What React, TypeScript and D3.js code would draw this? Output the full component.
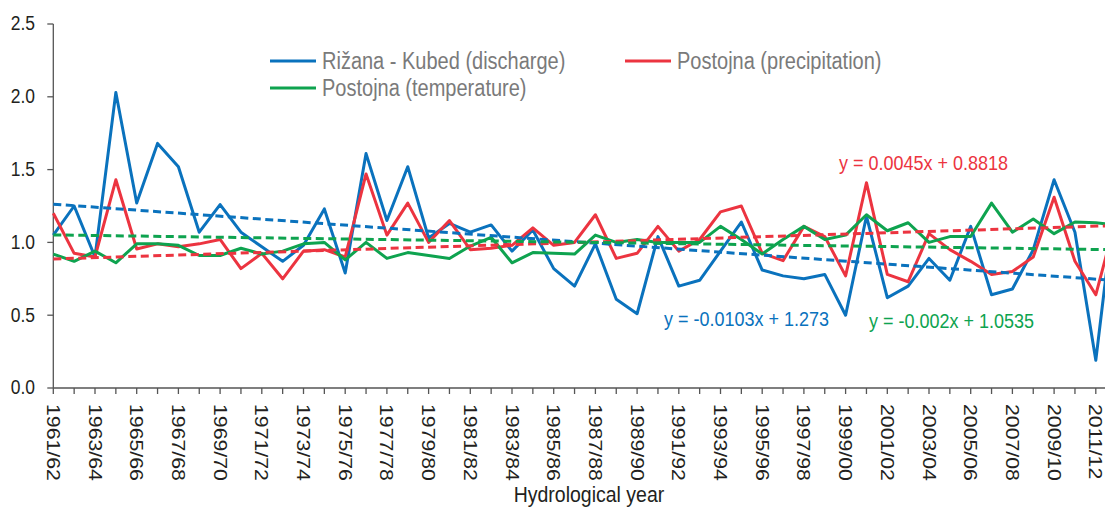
import React from 'react'
import * as d3 from 'd3'

// hydrological years 1961/62 .. 2012/13
const years = d3.range(1961, 2013).map(y => `${y}/${String((y + 1) % 100).padStart(2, '0')}`)

const discharge = [1.05, 1.25, 0.90, 2.03, 1.27, 1.68, 1.52, 1.07, 1.26, 1.07, 0.97, 0.87, 0.98, 1.23, 0.79, 1.61, 1.15, 1.52, 1.03, 1.13, 1.07, 1.12, 0.94, 1.085, 0.82, 0.70, 0.99, 0.61, 0.51, 1.04, 0.70, 0.74, 0.94, 1.14, 0.81, 0.77, 0.75, 0.78, 0.50, 1.18, 0.62, 0.70, 0.89, 0.74, 1.11, 0.64, 0.68, 0.95, 1.43, 1.07, 0.19, 1.38]
const precipitation = [1.20, 0.925, 0.90, 1.43, 0.955, 0.99, 0.97, 0.99, 1.02, 0.82, 0.925, 0.75, 0.94, 0.95, 0.90, 1.47, 1.05, 1.27, 1.00, 1.15, 0.95, 0.96, 0.98, 1.10, 0.98, 1.00, 1.19, 0.89, 0.925, 1.11, 0.94, 1.02, 1.21, 1.25, 0.925, 0.875, 1.11, 1.04, 0.77, 1.41, 0.78, 0.73, 1.06, 0.95, 0.87, 0.78, 0.80, 0.90, 1.31, 0.87, 0.64, 1.18]
const temperature = [0.92, 0.87, 0.94, 0.86, 0.99, 0.99, 0.98, 0.91, 0.91, 0.96, 0.92, 0.94, 0.99, 1.00, 0.88, 1.00, 0.89, 0.93, 0.91, 0.89, 0.975, 1.035, 0.86, 0.93, 0.925, 0.92, 1.05, 1.00, 1.02, 1.00, 1.00, 1.00, 1.11, 1.02, 0.92, 1.02, 1.11, 1.02, 1.05, 1.19, 1.08, 1.135, 1.00, 1.04, 1.04, 1.27, 1.07, 1.16, 1.06, 1.14, 1.135, 1.12]

const yTicks = [0, 0.5, 1.0, 1.5, 2.0, 2.5]

const series = [
  { name: 'Rižana - Kubed (discharge)', values: discharge, color: '#0a72bd', slope: -0.0103, icpt: 1.273, eq: 'y = -0.0103x + 1.273', eqX: 664, eqY: 326 },
  { name: 'Postojna (precipitation)', values: precipitation, color: '#ec3440', slope: 0.0045, icpt: 0.8818, eq: 'y = 0.0045x + 0.8818', eqX: 839, eqY: 170 },
  { name: 'Postojna (temperature)', values: temperature, color: '#0ea34f', slope: -0.002, icpt: 1.0535, eq: 'y = -0.002x + 1.0535', eqX: 869, eqY: 328 },
]

const FONT = 'Liberation Sans, Arial, sans-serif'
const SY = 1.15 // the original text is a bit taller than wide

const Txt = ({ x, y, size, fill, anchor = 'start', rotate = 0, children }) => (
  <text
    transform={rotate ? `translate(${x},${y}) rotate(${rotate}) scale(${SY},1)` : `translate(${x},${y}) scale(1,${SY})`}
    fontSize={size} fill={fill} textAnchor={anchor} fontFamily={FONT}
    dominantBaseline={rotate ? 'central' : 'auto'}
  >{children}</text>
)

export default function App () {
  const W = 1105, H = 507
  const left = 53.3, top = 24, bottom = 388
  const step = 20.85

  const x = d3.scaleLinear().domain([0, years.length - 1]).range([left, left + step * (years.length - 1)])
  const y = d3.scaleLinear().domain([0, 2.5]).range([bottom, top])

  const line = d3.line<number>().x((d, i) => x(i)).y(d => y(d))

  // legend layout
  const legend = [
    { s: series[0], lx: 270, ly: 61 },
    { s: series[1], lx: 625, ly: 61 },
    { s: series[2], lx: 270, ly: 88 },
  ]

  return (
    <svg width={W} height={H} style={{ position: 'absolute', left: 0, top: 0, background: '#fff' }}>
      {/* y axis */}
      <line x1={left} x2={left} y1={top} y2={bottom} stroke="#555" strokeWidth={1.3} />
      {yTicks.map(t => (
        <g key={t}>
          <line x1={left - 6} x2={left} y1={y(t)} y2={y(t)} stroke="#555" strokeWidth={1.3} />
          <Txt x={35} y={y(t) + 6.3} size={17.5} fill="#231f20" anchor="end">{t.toFixed(1)}</Txt>
        </g>
      ))}

      {/* x axis */}
      <line x1={left} x2={W} y1={bottom} y2={bottom} stroke="#555" strokeWidth={1.3} />
      {years.map((yr, i) => (
        <g key={yr}>
          <line x1={x(i)} x2={x(i)} y1={bottom} y2={bottom + 6} stroke="#555" strokeWidth={1.3} />
          {i % 2 === 0 && (
            <Txt x={x(i)} y={404} size={18.5} fill="#231f20" rotate={90}>{yr}</Txt>
          )}
        </g>
      ))}
      <Txt x={589} y={502} size={19.5} fill="#231f20" anchor="middle">Hydrological year</Txt>

      {/* series */}
      {series.map(s => (
        <path key={s.name} d={line(s.values)} fill="none" stroke={s.color} strokeWidth={3} strokeLinejoin="round" />
      ))}

      {/* linear trend lines */}
      {series.map(s => {
        const n = s.values.length
        return (
          <line key={s.name + 't'}
            x1={x(0)} y1={y(s.slope * 1 + s.icpt)}
            x2={x(n - 1)} y2={y(s.slope * n + s.icpt)}
            stroke={s.color} strokeWidth={3} strokeDasharray="8,4.5" />
        )
      })}

      {series.map(s => (
        <Txt key={s.name + 'eq'} x={s.eqX} y={s.eqY} size={18} fill={s.color}>{s.eq}</Txt>
      ))}

      {/* legend */}
      {legend.map(({ s, lx, ly }) => (
        <g key={s.name + 'lg'}>
          <line x1={lx} x2={lx + 46} y1={ly} y2={ly} stroke={s.color} strokeWidth={3} />
          <Txt x={lx + 52} y={ly + 7.5} size={20} fill="#7a7a7a">{s.name}</Txt>
        </g>
      ))}
    </svg>
  )
}
